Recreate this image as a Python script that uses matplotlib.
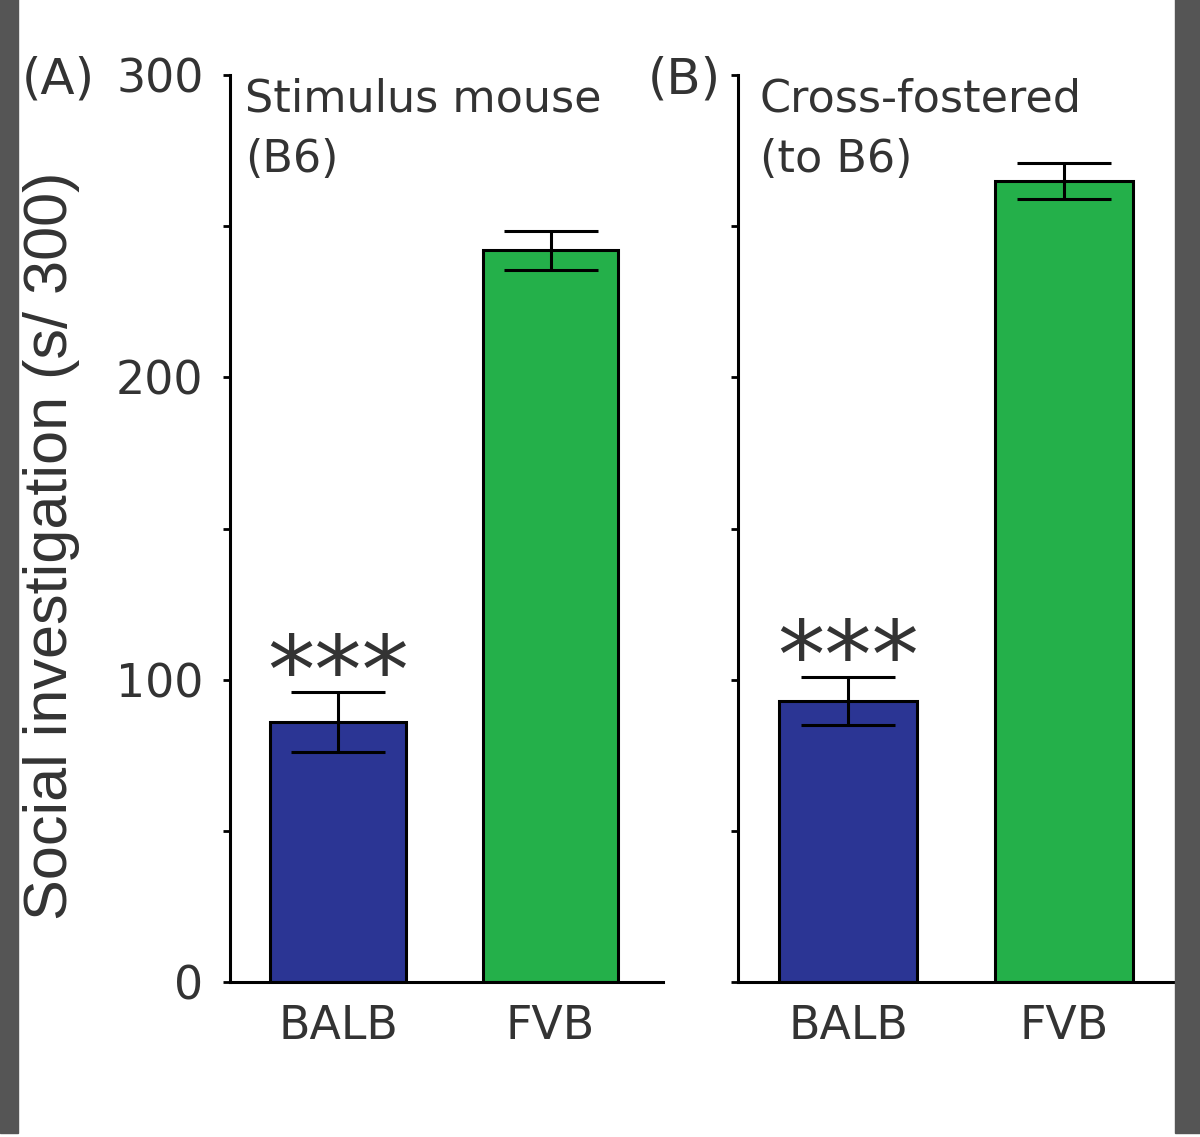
import matplotlib
matplotlib.use("Agg")
import matplotlib.pyplot as plt
from matplotlib.patches import Rectangle

# values
strains = ["BALB", "FVB"]
stim_means = [86, 242]
stim_err = [10, 6.5]
cross_means = [93, 265]
cross_err = [8, 6]
panel_titles = ["Stimulus mouse\n(B6)", "Cross-fostered\n(to B6)"]
panel_tags = ["(A)", "(B)"]

bar_colors = ["#2b3594", "#24b04a"]
txt = "#333333"

plt.rcParams["font.family"] = ["DejaVu Sans"]

fig = plt.figure(figsize=(12, 11.37), dpi=100)

# dark strips at the left and right edges of the scan
fig.patches.append(Rectangle((0, 0.0035), 18 / 1200, 1, transform=fig.transFigure,
                             color="#555555", zorder=0))
fig.patches.append(Rectangle((1175 / 1200, 0.0035), 25 / 1200, 1, transform=fig.transFigure,
                             color="#555555", zorder=0))

bottom = 1 - 982 / 1137
height = (982 - 75) / 1137
axA = fig.add_axes([230 / 1200, bottom, 433 / 1200, height])
axB = fig.add_axes([738 / 1200, bottom, 440 / 1200, height])

data = [(stim_means, stim_err), (cross_means, cross_err)]
x = [0, 1]
title_x = [0.035, 0.05]

for i, ax in enumerate([axA, axB]):
    means, err = data[i]
    ax.bar(x, means, width=0.64, color=bar_colors, edgecolor="black", linewidth=2.2, zorder=2)
    ax.errorbar(x, means, yerr=err, fmt="none", ecolor="black", elinewidth=2.2,
                capsize=34, capthick=2.2, zorder=3)
    # significance stars above the BALB bar
    ax.text(0, means[0] + err[0] + 5, "***", ha="center", va="center", fontsize=68,
            color=txt)

    ax.set_xlim(-0.51, 1.53)
    ax.set_ylim(0, 300)
    ax.set_xticks(x)
    ax.set_xticklabels(strains, fontsize=33, color=txt)
    ax.set_yticks([0, 100, 200, 300])
    ax.set_yticks([50, 150, 250], minor=True)
    ax.tick_params(axis="y", which="both", direction="out", length=5, width=2,
                   labelsize=33, labelcolor=txt, pad=14)
    ax.tick_params(axis="x", length=0, pad=16)
    for s in ["top", "right"]:
        ax.spines[s].set_visible(False)
    for s in ["left", "bottom"]:
        ax.spines[s].set_linewidth(2.2)
    ax.patch.set_alpha(0)

    ax.text(title_x[i], 0.997, panel_titles[i], transform=ax.transAxes, ha="left", va="top",
            fontsize=32, color=txt, linespacing=1.5)

axB.tick_params(axis="y", labelleft=False)
axA.set_ylabel("Social investigation (s/ 300)", fontsize=44, color=txt,
               family="Liberation Sans")
axA.yaxis.set_label_coords(-0.346, 0.481)

fig.text(22 / 1200, 1 - 80 / 1137, panel_tags[0], ha="left", va="center", fontsize=36, color=txt)
fig.text(648 / 1200, 1 - 80 / 1137, panel_tags[1], ha="left", va="center", fontsize=36, color=txt)

fig.savefig("out.png", dpi=100)
